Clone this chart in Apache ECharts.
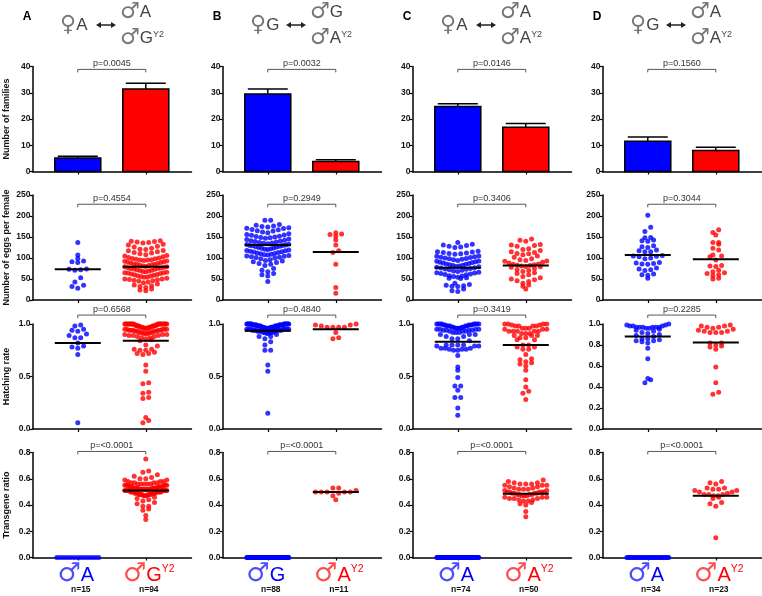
<!DOCTYPE html>
<html><head><meta charset="utf-8">
<script src="https://cdn.jsdelivr.net/npm/echarts@6/dist/echarts.min.js"></script>
<style>html,body{margin:0;padding:0;background:#fff}#c{width:762px;height:596px}</style>
</head><body><div id="c"></div>
<script>
// ---------------- DATA ----------------
const panelLetters = ['A','B','C','D'];
const femaleSymbol = '♀', maleSymbol = '♂';
const femaleLetters = ['A','G','A','G'];
const maleTopLetters = ['A','G','A','A'];
const maleBottomLetters = ['G','A','A','A'];
const leftGroupLetters = ['A','G','A','A'];
const rightGroupLetters = ['G','A','A','A'];
const supLabel = 'Y2';
const nLeft = [15,88,74,34];
const nRight = [94,11,50,23];
const yAxisNames = ['Number of families','Number of eggs per female','Hatching rate','Transgene ratio'];

const familyMeans = [[5.1,31.4],[29.5,3.8],[24.8,16.9],[11.5,8.0]];
const familyUpper = [[5.8,33.6],[31.4,4.5],[25.8,18.3],[13.1,9.2]];

const pFamilies = ['p=0.0045','p=0.0032','p=0.0146','p=0.1560'];
const pEggs = ['p=0.4554','p=0.2949','p=0.3406','p=0.3044'];
const pHatch = ['p=0.6568','p=0.4840','p=0.3419','p=0.2285'];
const pTrans = ['p=<0.0001','p=<0.0001','p=<0.0001','p=<0.0001'];

const eggMeans = [[73,79],[131,114],[77,82],[107,97]];
const hatchMeans = [[0.82,0.84],[0.935,0.95],[0.83,0.80],[0.88,0.825]];
const transMeans = [[null,0.51],[null,0.50],[null,0.485],[null,0.47]];

const eggsA_blue = [137,107,99,93,91,89,74,73,72,71,53,43,35,32,28];
const eggsA_red = [141,140,139,138,137,136,133,131,128,126,
 123,121,120,118,117,115,113,112,110,108,
 106,105,103,101,100,99,98,97,96,95,
 95,94,93,92,91,90,89,88,87,86,
 85,85,84,83,82,81,80,79,79,78,
 77,76,75,75,74,73,72,71,70,69,
 68,67,66,65,65,64,63,62,61,60,
 59,58,57,56,55,54,52,50,50,49,
 48,47,46,45,43,41,38,36,34,32,
 30,26,24,22];
const eggsB_blue = [190,190,180,178,176,175,174,172,171,170,168,167,165,164,162,160,
 158,156,155,154,152,151,150,149,148,147,145,144,142,141,
 140,139,138,137,136,135,134,133,132,131,130,130,129,128,127,126,125,124,123,122,121,120,
 119,118,117,116,115,114,113,112,111,110,109,108,107,106,105,104,103,102,101,100,
 98,96,94,93,91,89,87,85,82,
 75,71,67,63,60,57,44];
const eggsB_red = [160,157,156,152,143,131,117,113,85,30,16];
const eggsC_blue = [137,133,131,130,128,126,125,116,115,114,113,112,111,110,109,
 105,104,103,102,101,100,99,98,97,96,94,93,92,91,90,89,88,87,86,
 85,84,83,82,81,80,79,78,77,76,75,74,73,72,71,69,68,66,65,64,63,62,61,60,
 58,57,56,54,53,52,51,40,37,35,34,33,32,26,22,20];
const eggsC_red = [145,142,140,132,131,130,128,122,120,118,115,113,111,110,108,105,102,
 98,96,94,93,92,90,88,86,85,84,83,82,81,80,79,78,
 75,72,70,68,65,63,60,56,53,50,48,46,44,40,36,33,26];
const eggsD_blue = [202,173,163,149,148,143,141,140,129,127,125,119,117,115,115,106,105,104,103,100,98,89,88,87,86,85,76,74,72,70,62,60,59,52];
const eggsD_red = [167,161,155,137,137,133,123,119,107,105,103,95,82,81,80,71,67,65,63,60,58,52,50];

const hatchA_blue = [0.99,0.98,0.95,0.94,0.93,0.905,0.89,0.87,0.87,0.82,0.79,0.78,0.77,0.71,0.06];
const hatchA_red = [1,1,1,1,1,1,1,1,1,1,1,1,1,1,1,1,1,1,
 0.99,0.99,0.99,0.99,0.98,0.98,0.98,0.98,0.98,0.98,0.97,0.97,0.97,0.97,0.97,0.97,
 0.96,0.96,0.96,0.96,0.96,0.95,0.95,0.95,0.95,0.95,0.94,0.94,0.94,0.94,0.94,
 0.93,0.93,0.93,0.93,0.92,0.92,0.92,0.92,0.91,0.91,0.91,0.90,0.90,0.90,
 0.89,0.89,0.89,0.88,0.88,0.87,0.87,0.86,0.85,0.84,
 0.80,0.79,0.76,0.76,0.75,0.75,0.73,0.72,0.72,0.71,0.61,0.55,0.44,0.43,0.35,0.34,0.30,0.29,0.11,0.08,0.06];
const hatchB_blue = [1,1,1,1,1,1,1,1,1,1,1,1,1,1,
 0.99,0.99,0.99,0.99,0.99,0.99,0.99,0.99,0.99,0.99,0.99,0.99,
 0.98,0.98,0.98,0.98,0.98,0.98,0.98,0.98,0.98,0.98,
 0.97,0.97,0.97,0.97,0.97,0.97,0.97,0.97,0.97,
 0.96,0.96,0.96,0.96,0.96,0.96,0.96,0.96,
 0.95,0.95,0.95,0.95,0.95,0.95,0.95,
 0.94,0.94,0.94,0.94,0.94,0.94,0.93,0.93,0.93,0.93,0.93,
 0.92,0.92,0.92,0.92,0.91,0.91,0.90,
 0.88,0.88,0.86,0.83,0.80,0.75,0.75,0.61,0.55,0.15];
const hatchB_red = [1.0,0.99,0.99,0.98,0.97,0.97,0.97,0.97,0.92,0.87,0.86];
const hatchC_blue = [1,1,1,1,1,1,1,1,0.99,0.99,0.99,0.99,0.99,0.98,0.98,0.98,0.98,0.98,
 0.97,0.97,0.97,0.97,0.96,0.96,0.96,0.96,0.95,0.95,0.95,0.95,0.94,0.94,0.94,0.94,
 0.93,0.93,0.93,0.92,0.92,0.92,0.90,0.90,0.90,0.88,0.88,0.86,0.86,0.84,
 0.80,0.80,0.80,0.80,0.79,0.79,0.79,0.77,0.77,0.77,0.76,0.76,0.76,0.75,0.75,
 0.70,0.59,0.56,0.49,0.41,0.41,0.37,0.30,0.30,0.20,0.13];
const hatchC_red = [1,1,1,1,0.99,0.99,0.98,0.98,0.98,0.98,0.96,0.96,0.96,0.95,0.95,0.95,
 0.93,0.93,0.93,0.93,0.93,0.91,0.91,0.91,0.89,0.89,0.89,0.87,0.87,0.85,0.85,
 0.80,0.80,0.78,0.78,0.76,0.76,
 0.71,0.67,0.66,0.64,0.63,0.62,0.60,0.56,0.47,0.40,0.36,0.34,0.28];
const hatchD_blue = [1.0,0.99,0.99,0.98,0.98,0.98,0.97,0.97,0.97,0.97,0.97,0.97,0.96,0.96,0.95,0.94,0.93,0.92,0.91,0.90,0.89,0.88,0.86,0.86,0.85,0.84,0.84,0.83,0.82,0.77,0.67,0.48,0.47,0.44];
const hatchD_red = [0.99,0.98,0.98,0.97,0.97,0.96,0.95,0.94,0.93,0.93,0.92,0.92,0.92,0.82,0.82,0.80,0.79,0.78,0.76,0.59,0.44,0.35,0.33];

const transA_blue = [0,0,0,0,0,0,0,0,0,0,0,0,0,0,0];
const transA_red = [0.75,0.66,0.65,0.63,0.62,0.61,0.60,0.60,0.59,0.59,
 0.58,0.58,0.58,0.57,0.57,0.57,0.57,0.56,0.56,0.56,0.56,0.56,
 0.55,0.55,0.55,0.55,0.55,0.55,0.54,0.54,0.54,0.54,0.54,0.54,0.54,
 0.53,0.53,0.53,0.53,0.53,0.53,0.53,0.53,0.52,0.52,0.52,0.52,0.52,0.52,0.52,0.52,0.52,
 0.51,0.51,0.51,0.51,0.51,0.51,0.51,0.51,0.50,0.50,0.50,0.50,0.50,0.50,0.50,
 0.49,0.49,0.49,0.49,0.49,0.49,0.48,0.48,0.48,0.48,0.48,0.48,0.47,0.47,0.47,
 0.46,0.45,0.44,0.43,0.42,0.41,0.39,0.39,0.37,0.36,0.32,0.29];
const transB_blue = [0,0,0,0,0,0,0,0,0,0, 0,0,0,0,0,0,0,0,0,0, 0,0,0,0,0,0,0,0,0,0,
 0,0,0,0,0,0,0,0,0,0, 0,0,0,0,0,0,0,0,0,0, 0,0,0,0,0,0,0,0,0,0,
 0,0,0,0,0,0,0,0,0,0, 0,0,0,0,0,0,0,0,0,0, 0,0,0,0,0,0,0,0];
const transB_red = [0.53,0.53,0.51,0.50,0.50,0.50,0.50,0.50,0.49,0.47,0.44];
const transC_blue = [0,0,0,0,0,0,0,0,0,0, 0,0,0,0,0,0,0,0,0,0, 0,0,0,0,0,0,0,0,0,0,
 0,0,0,0,0,0,0,0,0,0, 0,0,0,0,0,0,0,0,0,0, 0,0,0,0,0,0,0,0,0,0,
 0,0,0,0,0,0,0,0,0,0, 0,0,0,0];
const transC_red = [0.59,0.58,0.57,0.57,0.56,0.56,0.56,0.55,0.55,0.55,0.54,0.54,0.53,0.53,
 0.52,0.52,0.52,0.51,0.51,0.50,0.50,0.50,0.50,0.50,0.49,0.49,0.49,0.49,
 0.48,0.48,0.48,0.48,0.47,0.47,0.47,0.46,0.46,0.46,0.45,0.45,0.45,
 0.44,0.44,0.43,0.43,0.42,0.41,0.40,0.35,0.31];
const transD_blue = [0,0,0,0,0,0,0,0,0,0, 0,0,0,0,0,0,0,0,0,0, 0,0,0,0,0,0,0,0,0,0, 0,0,0,0];
const transD_red = [0.58,0.57,0.56,0.53,0.53,0.52,0.52,0.51,0.51,0.50,0.50,0.49,0.48,0.48,0.48,0.47,0.47,0.46,0.45,0.42,0.41,0.39,0.15];

// ---------------- LAYOUT / STYLE ----------------
const COL_LEFT = [32.5, 222.5, 412.5, 602.5];
const ROW_TOP = [66.5, 195, 324, 452.5];
const GRID_W = 159, GRID_H = 105;
const X_MIN = 0.334, X_MAX = 0.334 + 159/68;
const PX_PER_X = GRID_W / (X_MAX - X_MIN);
const Y_MAX = [40, 250, 1, 0.8];
const Y_INT = [[10,10,10,10],[50,50,50,50],[0.5,0.5,0.5,0.2],[0.2,0.2,0.2,0.2]];
const BRACKET_Y = [38.9, 228, 1.085, 0.808];
const BLUE = '#0000ff', RED = '#ff0000';
const FONT = 'Liberation Sans, Arial, DejaVu Sans, sans-serif';
const SYM_FONT = 'DejaVu Sans, sans-serif';
const DOT = 5, SPACING = 5.8, MAX_HALF = 21, BIN_PX = 5.6;
const BAR_HALF = 23/68, CAP_HALF = 20/68, MEAN_HALF = 23/68;

const rowsData = [
  null,
  [[eggsA_blue,eggsA_red],[eggsB_blue,eggsB_red],[eggsC_blue,eggsC_red],[eggsD_blue,eggsD_red]],
  [[hatchA_blue,hatchA_red],[hatchB_blue,hatchB_red],[hatchC_blue,hatchC_red],[hatchD_blue,hatchD_red]],
  [[transA_blue,transA_red],[transB_blue,transB_red],[transC_blue,transC_red],[transD_blue,transD_red]]
];
const rowMeans = [null, eggMeans, hatchMeans, transMeans];
const rowP = [pFamilies, pEggs, pHatch, pTrans];

function swarm(values, center, yMax) {
  const pxPerY = GRID_H / yMax;
  const bins = {};
  values.forEach(v => {
    const k = Math.floor(v * pxPerY / BIN_PX + 1e-9);
    (bins[k] = bins[k] || []).push(v);
  });
  const out = [];
  Object.keys(bins).forEach(k => {
    const row = bins[k].slice().sort((a,b) => a-b);
    const n = row.length;
    const sp = n > 1 ? Math.min(SPACING, 2*MAX_HALF/(n-1)) : 0;
    row.forEach((v, i) => {
      let slot;
      if (n % 2 === 1) slot = i === 0 ? 0 : (i % 2 === 1 ? -Math.ceil(i/2) : Math.ceil(i/2));
      else slot = (i % 2 === 0 ? -1 : 1) * (Math.floor(i/2) + 0.5);
      out.push([center + slot*sp/PX_PER_X, v]);
    });
  });
  return out;
}

const option = {animation:false, backgroundColor:'#fff', grid:[], xAxis:[], yAxis:[], series:[], graphic:[]};

for (let r = 0; r < 4; r++) {
  for (let c = 0; c < 4; c++) {
    const gi = r*4 + c;
    option.grid.push({left: COL_LEFT[c], top: ROW_TOP[r], width: GRID_W, height: GRID_H, containLabel:false, outerBoundsMode:'none'});
    option.xAxis.push({
      gridIndex: gi, type:'value', min: X_MIN, max: X_MAX,
      axisLine:{show:true, onZero:false, lineStyle:{color:'#000', width:1.5}},
      axisTick:{show:true, customValues:[1,2], length:3, lineStyle:{color:'#000', width:1.2}},
      axisLabel:{show:false}, splitLine:{show:false}
    });
    const dec = r >= 2 ? 1 : 0;
    option.yAxis.push({
      gridIndex: gi, type:'value', min:0, max:Y_MAX[r], interval:Y_INT[r][c],
      name: c === 0 ? yAxisNames[r] : '', nameLocation:'middle', nameGap:21,
      nameTextStyle:{fontSize:9, fontWeight:'bold', color:'#111', fontFamily:FONT},
      axisLine:{show:true, lineStyle:{color:'#000', width:1.5}},
      axisTick:{show:true, length:3, lineStyle:{color:'#000', width:1.2}},
      axisLabel:{fontSize:8.5, fontWeight:'bold', color:'#111', margin:2, fontFamily:FONT,
        formatter: v => Number(v).toFixed(dec)},
      splitLine:{show:false}
    });
    if (r === 0) {
      option.series.push({
        type:'custom', xAxisIndex:gi, yAxisIndex:gi, clip:false, z:3,
        data:[[1, familyMeans[c][0], familyUpper[c][0]], [2, familyMeans[c][1], familyUpper[c][1]]],
        renderItem: (params, api) => {
          const x = api.value(0), m = api.value(1), u = api.value(2);
          const bl = api.coord([x - BAR_HALF, 0]);
          const tr = api.coord([x + BAR_HALF, m]);
          const top = api.coord([x, m]);
          const up = api.coord([x, u]);
          const cl = api.coord([x - CAP_HALF, u]);
          const cr = api.coord([x + CAP_HALF, u]);
          return {type:'group', children:[
            {type:'line', shape:{x1:top[0], y1:top[1], x2:up[0], y2:up[1]}, style:{stroke:'#000', lineWidth:1.5}},
            {type:'line', shape:{x1:cl[0], y1:cl[1], x2:cr[0], y2:cr[1]}, style:{stroke:'#000', lineWidth:1.5}},
            {type:'rect', shape:{x:bl[0], y:tr[1], width:tr[0]-bl[0], height:bl[1]-tr[1]},
              style:{fill: params.dataIndex === 0 ? BLUE : RED, stroke:'#000', lineWidth:1.5}}
          ]};
        }
      });
    } else {
      const pair = rowsData[r][c];
      option.series.push({type:'scatter', xAxisIndex:gi, yAxisIndex:gi, clip:false, z:3,
        symbolSize:DOT, itemStyle:{color:BLUE}, data: swarm(pair[0], 1, Y_MAX[r])});
      option.series.push({type:'scatter', xAxisIndex:gi, yAxisIndex:gi, clip:false, z:3,
        symbolSize:DOT, itemStyle:{color:RED}, data: swarm(pair[1], 2, Y_MAX[r])});
      const md = [];
      rowMeans[r][c].forEach((m, i) => { if (m !== null) md.push([i+1, m]); });
      option.series.push({
        type:'custom', xAxisIndex:gi, yAxisIndex:gi, clip:false, z:5, data: md,
        renderItem: (params, api) => {
          const p1 = api.coord([api.value(0) - MEAN_HALF, api.value(1)]);
          const p2 = api.coord([api.value(0) + MEAN_HALF, api.value(1)]);
          return {type:'line', shape:{x1:p1[0], y1:p1[1], x2:p2[0], y2:p2[1]}, style:{stroke:'#000', lineWidth:2}};
        }
      });
    }
    const ptxt = rowP[r][c];
    option.series.push({
      type:'custom', xAxisIndex:gi, yAxisIndex:gi, clip:false, z:4,
      data:[[1, BRACKET_Y[r], 2]],
      renderItem: (params, api) => {
        const pl = api.coord([api.value(0), api.value(1)]);
        const pr = api.coord([api.value(2), api.value(1)]);
        return {type:'group', children:[
          {type:'polyline', shape:{points:[[pl[0], pl[1]+3],[pl[0], pl[1]],[pr[0], pr[1]],[pr[0], pr[1]+3]]},
            style:{stroke:'#555', lineWidth:1, fill:null}},
          {type:'text', x:(pl[0]+pr[0])/2, y:pl[1]-1.5,
            style:{text:ptxt, align:'center', verticalAlign:'bottom', fontSize:9, fontFamily:FONT, fill:'#333'}}
        ]};
      }
    });
  }
}

function sexLabel(sym, letter, sup, color, symColor, size) {
  const text = '{g|' + sym + '}{m|' + letter + '}' + (sup ? '{s|' + sup + '}' : '');
  return {text: text, rich:{
    g:{fontSize:size*1.3, fontFamily:SYM_FONT, fill:symColor, verticalAlign:'bottom'},
    m:{fontSize:size, fontFamily:FONT, fill:color, verticalAlign:'bottom', padding:[0,0,2,0]},
    s:{fontSize:size*0.52, fontFamily:FONT, fill:color, verticalAlign:'top', padding:[3,0,0,0]}
  }};
}

for (let c = 0; c < 4; c++) {
  const ox = c * 190;
  option.graphic.push({type:'text', x:27+ox, y:17, style:{text:panelLetters[c], align:'center', verticalAlign:'middle', fontSize:12, fontWeight:'bold', fontFamily:FONT, fill:'#000'}});
  option.graphic.push({type:'text', x:60+ox, y:25, style:Object.assign({align:'left', verticalAlign:'middle'}, sexLabel(femaleSymbol, femaleLetters[c], '', '#444', '#777', 17))});
  option.graphic.push({type:'line', shape:{x1:99+ox, y1:25, x2:113+ox, y2:25}, style:{stroke:'#222', lineWidth:1.5}});
  option.graphic.push({type:'polygon', shape:{points:[[96+ox,25],[101+ox,22],[101+ox,28]]}, style:{fill:'#222'}});
  option.graphic.push({type:'polygon', shape:{points:[[116+ox,25],[111+ox,22],[111+ox,28]]}, style:{fill:'#222'}});
  option.graphic.push({type:'text', x:120+ox, y:12, style:Object.assign({align:'left', verticalAlign:'middle'}, sexLabel(maleSymbol, maleTopLetters[c], '', '#444', '#777', 17))});
  option.graphic.push({type:'text', x:120+ox, y:38, style:Object.assign({align:'left', verticalAlign:'middle'}, sexLabel(maleSymbol, maleBottomLetters[c], supLabel, '#444', '#777', 17))});

  const xl = COL_LEFT[c] + (1 - X_MIN) * PX_PER_X;
  const xr = COL_LEFT[c] + (2 - X_MIN) * PX_PER_X;
  option.graphic.push({type:'text', x:xl-2, y:574, style:Object.assign({align:'center', verticalAlign:'middle'}, sexLabel(maleSymbol, leftGroupLetters[c], '', BLUE, '#4d4dff', 20))});
  option.graphic.push({type:'text', x:xr+3, y:574, style:Object.assign({align:'center', verticalAlign:'middle'}, sexLabel(maleSymbol, rightGroupLetters[c], supLabel, RED, '#ff4d4d', 20))});
  option.graphic.push({type:'text', x:xl+3, y:590, style:{text:'n=' + nLeft[c], align:'center', verticalAlign:'middle', fontSize:8.5, fontWeight:'bold', fontFamily:FONT, fill:'#111'}});
  option.graphic.push({type:'text', x:xr+3, y:590, style:{text:'n=' + nRight[c], align:'center', verticalAlign:'middle', fontSize:8.5, fontWeight:'bold', fontFamily:FONT, fill:'#111'}});
}

const chart = echarts.init(document.getElementById('c'), null, {renderer:'canvas'});
chart.setOption(option);
</script></body></html>
